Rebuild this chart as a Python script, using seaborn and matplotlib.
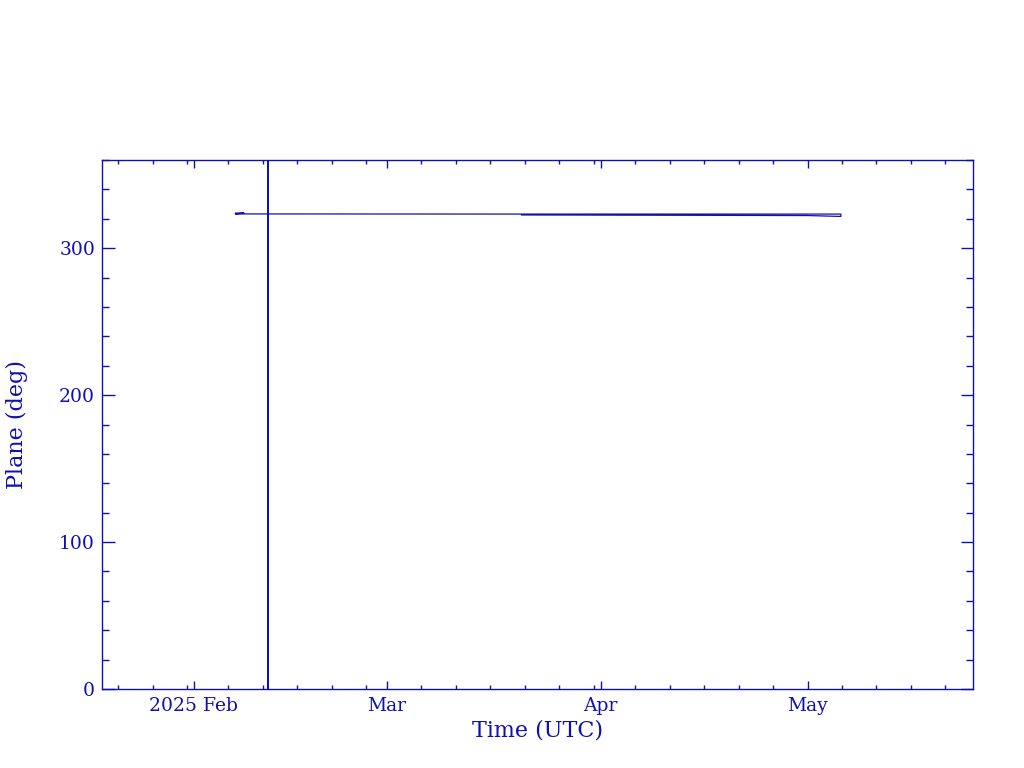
import pandas as pd
import matplotlib
matplotlib.use('Agg')
import matplotlib.pyplot as plt
import matplotlib.dates as mdates
import seaborn as sns

# path of the plane angle trace (not time-ordered, it doubles back)
times = ['2025-02-07 00:00', '2025-02-08 06:00', '2025-02-07 00:00',
         '2025-02-11 18:00', '2025-02-11 18:00', '2025-02-11 18:00',
         '2025-02-11 18:00', '2025-03-20 12:00', '2025-05-05 20:00',
         '2025-05-05 20:00', '2025-05-01 00:00', '2025-03-20 12:00']
plane = [323.9, 323.9, 323.3,
         323.3, 0.0, 360.0,
         323.3, 323.2, 323.2,
         321.6, 322.2, 322.6]

tick_dates = ['2025-02-01', '2025-03-01', '2025-04-01', '2025-05-01']
tick_labels = ['2025 Feb', 'Mar', 'Apr', 'May']
x_range = ['2025-01-18 16:00', '2025-05-25 00:00']
y_range = [0, 360]

blue = '#1010b0'

sns.set_style('ticks')
plt.rcParams['font.family'] = ['DejaVu Serif']

df = pd.DataFrame({'time': pd.to_datetime(times), 'plane': plane})

fig = plt.figure(figsize=(10.24, 7.68), dpi=100)
ax = fig.add_axes([102 / 1024, 1 - 689 / 768, 871 / 1024, 529 / 768])
sns.lineplot(data=df, x='time', y='plane', sort=False, estimator=None,
             color=blue, linewidth=0.9, ax=ax)

ax.set_xlim(pd.to_datetime(x_range))
ax.set_ylim(y_range)

ax.set_xticks(pd.to_datetime(tick_dates))
ax.set_xticklabels(tick_labels)
ax.xaxis.set_minor_locator(mdates.DayLocator(bymonthday=[6, 11, 16, 21, 26, 31]))
ax.set_yticks([0, 100, 200, 300])
ax.yaxis.set_minor_locator(matplotlib.ticker.MultipleLocator(20))

for s in ax.spines.values():
    s.set_visible(True)
    s.set_color(blue)
    s.set_linewidth(1.0)

ax.tick_params(axis='both', which='both', direction='in', top=True, right=True,
               color=blue, labelcolor=blue, labelsize=13.5, width=1.0)
ax.tick_params(axis='x', which='major', length=6, pad=6)
ax.tick_params(axis='x', which='minor', length=3)
ax.tick_params(axis='y', which='major', length=9, pad=5)
ax.tick_params(axis='y', which='minor', length=5)

ax.set_xlabel('Time (UTC)', color=blue, fontsize=16, labelpad=3)
ax.set_ylabel('Plane (deg)', color=blue, fontsize=16, labelpad=22)

fig.savefig('out.png', dpi=100)
